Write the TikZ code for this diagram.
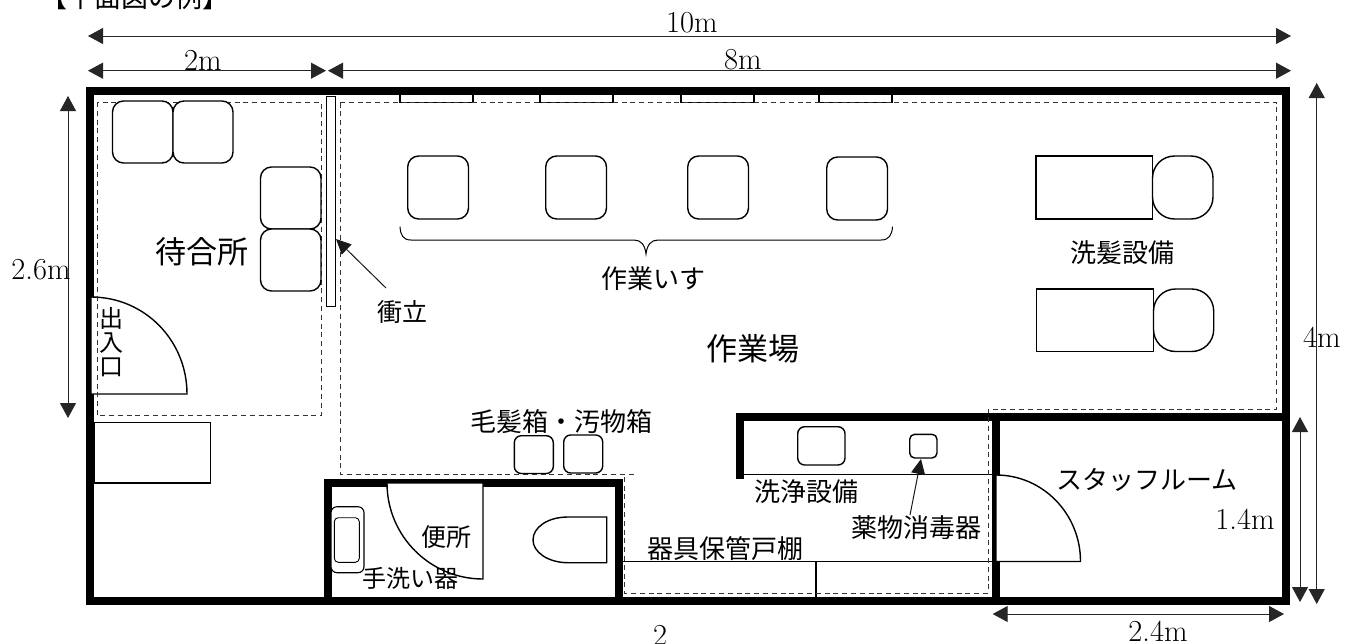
\documentclass[tikz,border=0pt]{standalone}
\usepackage{fontspec}
\usetikzlibrary{arrows.meta}
\newfontfamily\jp{Noto Sans CJK JP}
\tikzset{
  x=1pt,y=-1pt,
  wall/.style={line width=8pt,line cap=butt,line join=miter,black},
  thin/.style={line width=1.4pt,black},
  furn/.style={line width=1.4pt,black,fill=white},
  seat/.style={line width=1.4pt,black,fill=white,rounded corners=11pt},
  dashzone/.style={line width=1pt,black!80,dash pattern=on 5pt off 3.8pt},
  dim/.style={line width=1pt,black!85,{Triangle[length=15pt,width=16pt]}-{Triangle[length=15pt,width=16pt]}},
  lead/.style={line width=1pt,black!90,-{Triangle[length=15pt,width=14pt]}},
  jl/.style={inner sep=0pt,font=\jp\fontsize{26}{26}\selectfont},
  jbig/.style={inner sep=0pt,font=\jp\fontsize{31}{31}\selectfont},
  num/.style={inner sep=0pt,font=\fontsize{30.5}{31}\selectfont},
}
\begin{document}
\begin{tikzpicture}
\useasboundingbox[fill=white] (0,0) rectangle (1356,643);
% title
\node[jl,font=\jp\fontsize{27}{27}\selectfont] (title) at (135,-3) {【平面図の例】};
% furniture under walls
\foreach \a/\b in {400/473,540/613,681/754,819/892}
  \draw[thin,fill=white] (\a,94) rectangle (\b,102.7);
% outer + inner walls
\draw[wall] (90,91) rectangle (1286,601);
\draw[wall] (328,601) -- (328,483) -- (618.5,483) -- (618.5,601);
\draw[wall] (739.5,479) -- (739.5,417) -- (1286,417);
\draw[wall] (996,417) -- (996,601);
% thin partition lines
\coordinate (p1) at (743,474.5); \coordinate (p2) at (996,474.5);
\draw[thin] (p1) -- (p2);
\coordinate (s1) at (622,561.5); \coordinate (s2) at (996,561.5);
\draw[thin] (s1) -- (s2);
\coordinate (d1) at (816,561.5); \coordinate (d2) at (816,597);
\draw[thin] (d1) -- (d2);
% doors
\draw[thin,fill=white] (91,394) -- (91,297) .. controls (144.6,297) and (187,340.4) .. (187,394) -- cycle;
\draw[thin,fill=white] (483,483) -- (387,483) .. controls (387,536) and (430,579) .. (483,579) -- cycle;
\draw[thin,fill=white] (996,561.5) -- (996,475) .. controls (1043,475) and (1080.5,514) .. (1080.5,561.5) -- cycle;
% dashed zones
\draw[dashzone] (97,102) rectangle (321,415.7);
\draw[dashzone] (340,102.5) -- (1276.7,102.5) -- (1276.7,409) -- (988,409) -- (988,593) -- (624,593) -- (624,474);
\draw[dashzone] (340,102.5) -- (340,474) -- (635,474);
% screen
\draw[line width=1pt,black,fill=white] (326,96.7) rectangle (335,306.7);
% cabinet
\draw[thin,fill=white] (94,422.7) rectangle (210.7,483);
% seats
\foreach \a/\b/\c/\d in {112.5/101/173/163,173/101/233/163,260.5/167/321/229,260.5/229/321/291,
  407.7/156/468.5/219,545.7/156/606.5/219,687.7/156/748.5/219,826.7/157/887.5/220}
  \draw[seat] (\a,\b) rectangle (\c,\d);
% wash units
\draw[furn] (1036,156) rectangle (1152.5,219);
\draw[seat,rounded corners=22pt] (1152.5,156) rectangle (1213,219);
\draw[furn] (1036.7,289) rectangle (1153.5,351.5);
\draw[seat,rounded corners=22pt] (1153.5,289) rectangle (1213.7,351.5);
% brace
\draw[line width=1pt,black] (400,226.7) .. controls (400.5,235) and (403,240) .. (411,240) -- (634,240)
  .. controls (641,240) and (645,245) .. (646,254) .. controls (647,245) and (651,240) .. (658,240)
  -- (881,240) .. controls (889,240) and (892,235) .. (892.5,226.7);
% boxes
\draw[seat,rounded corners=7pt] (514.3,435.7) rectangle (553.3,473.5);
\draw[seat,rounded corners=7pt] (563.7,435) rectangle (602.7,473);
\draw[seat,rounded corners=7pt] (797.7,426.7) rectangle (845,465);
\draw[seat,rounded corners=5pt] (909.7,434.3) rectangle (937,458);
% sink
\draw[line width=1.1pt,black,fill=white,rounded corners=6pt] (331,506.7) rectangle (364,572.7);
\draw[line width=0.9pt,black,rounded corners=4pt] (334.3,517.7) rectangle (359.3,562.3);
% toilet
\draw[furn] (606.7,517) -- (568,517) .. controls (548,517) and (533,527) .. (533,540) .. controls (533,552) and (548,562.7) .. (568,562.7) -- (606.7,562.7) -- cycle;
% dimensions
\coordinate (a10l) at (88,36); \coordinate (a10r) at (1291,36);
\coordinate (a2l) at (88,70.7); \coordinate (a2r) at (326,70.7);
\coordinate (a8l) at (328,70.7); \coordinate (a8r) at (1291,70.7);
\coordinate (a26t) at (68,96); \coordinate (a26b) at (68,418);
\coordinate (a4t) at (1316.7,83); \coordinate (a4b) at (1316.7,604);
\coordinate (a14t) at (1300,417); \coordinate (a14b) at (1300,602);
\coordinate (a24l) at (992.7,614); \coordinate (a24r) at (1284,614);
\draw[dim] (a10l) -- (a10r);
\draw[dim] (a2l) -- (a2r);
\draw[dim] (a8l) -- (a8r);
\draw[dim] (a26t) -- (a26b);
\draw[dim] (a4t) -- (a4b);
\draw[dim] (a14t) -- (a14b);
\draw[dim] (a24l) -- (a24r);
% leaders
\coordinate (screenfrom) at (386,288); \coordinate (screento) at (336,239);
\draw[lead] (screenfrom) -- (screento);
\coordinate (disfrom) at (910,515); \coordinate (disto) at (921,459);
\draw[lead] (disfrom) -- (disto);
% numbers
\node[num] (t10) at (692,23) {10m};
\node[num] (t2) at (203,60) {2m};
\node[num] (t8) at (743,60) {8m};
\node[num] (t26) at (41,270) {2.6m};
\node[num] (t4) at (1322,337) {4m};
\node[num] (t14) at (1245,519) {1.4m};
\node[num] (t24) at (1158,631) {2.4m};
\node[num] (tt) at (660,635) {2};
% labels
\node[jbig] (l1) at (202,252) {待合所};
\node[jbig] (l2) at (753,349) {作業場};
\node[jl,font=\jp\fontsize{25}{25}\selectfont] (l3) at (402,312) {衝立};
\node[jl] (l4) at (653,279) {作業いす};
\node[jl] (l5) at (1122,253) {洗髪設備};
\node[jl] (l6) at (561,422) {毛髪箱・汚物箱};
\node[jl] (l7) at (806,492) {洗浄設備};
\node[jl] (l8) at (916,528) {薬物消毒器};
\node[jl] (l9) at (725,549) {器具保管戸棚};
\node[jl,font=\jp\fontsize{25}{25}\selectfont] (l10) at (446,537) {便所};
\node[jl,font=\jp\fontsize{24}{24}\selectfont] (l11) at (410,578) {手洗い器};
\node[jl] (l12) at (1147,480) {スタッフルーム};
\node[jl,font=\jp\fontsize{24}{24}\selectfont] (l13a) at (111,318) {出};
\node[jl,font=\jp\fontsize{24}{24}\selectfont] (l13b) at (111,343) {入};
\node[jl,font=\jp\fontsize{24}{24}\selectfont] (l13c) at (111,367) {口};
\end{tikzpicture}
\end{document}
